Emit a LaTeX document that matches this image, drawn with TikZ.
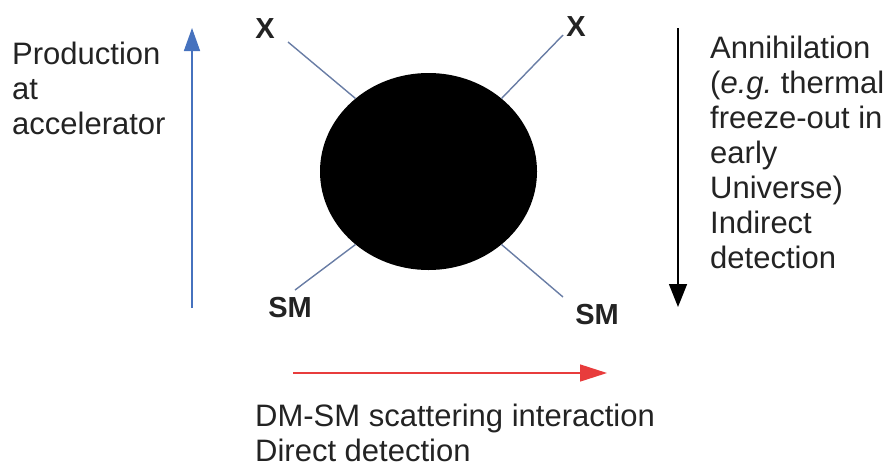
\documentclass[tikz,border=0pt]{standalone}
\usepackage{fontspec}
\setmainfont{Liberation Sans}
\usetikzlibrary{arrows.meta,shapes.geometric}
\frenchspacing
\definecolor{txt}{RGB}{35,35,35}
\definecolor{bluearr}{RGB}{70,114,190}
\definecolor{redarr}{RGB}{232,60,60}
\definecolor{leg}{RGB}{105,125,165}
\tikzset{
  bigtext/.style={font=\fontsize{31}{35}\selectfont, text=txt, align=left, inner sep=0pt, anchor=base west},
  plabel/.style={font=\fontsize{29}{30}\selectfont\bfseries, text=txt, inner sep=0pt},
  legline/.style={draw=leg, line width=1.4pt},
}
\begin{document}
\begin{tikzpicture}[x=1pt,y=-1pt]
\useasboundingbox (0,0) rectangle (888,472);
% blob
\node[ellipse, fill=black, minimum width=217pt, minimum height=197pt, inner sep=0pt] (blob) at (428.5,171.5) {};
% legs
\coordinate (ul) at (288,42);
\coordinate (ur) at (563,35);
\coordinate (ll) at (295,290);
\coordinate (lr) at (563,297);
\draw[legline] (ul) -- (blob.135);
\draw[legline] (ur) -- (blob.45);
\draw[legline] (ll) -- (blob.-135);
\draw[legline] (lr) -- (blob.-45);
% particle labels
\node[plabel] (xl) at (265,29) {X};
\node[plabel] (xr) at (576,27) {X};
\node[plabel] (sml) at (290,308) {SM};
\node[plabel] (smr) at (597,315) {SM};
% arrows
\coordinate (bb) at (192,308);
\coordinate (bt) at (192,28);
\draw[bluearr, line width=1.5pt, -{Triangle[length=23pt,width=16pt]}] (bb) -- (bt);
\coordinate (kt) at (678,28);
\coordinate (kb) at (678,307);
\draw[black, line width=1.5pt, -{Triangle[length=23pt,width=18pt]}] (kt) -- (kb);
\coordinate (rl) at (293,373);
\coordinate (rr) at (607,373);
\draw[redarr, line width=1.5pt, -{Triangle[length=27pt,width=17pt]}] (rl) -- (rr);
% texts (anchored at baseline of last line)
\node[bigtext] (prod) at (12,134) {Production\\at\\accelerator};
\node[bigtext] (ann) at (710,268) {Annihilation\\(\textit{e.g.} thermal\\freeze-out in\\early\\Universe)\\Indirect\\detection};
\node[bigtext] (dm) at (255,461) {DM-SM scattering interaction\\Direct detection};
\end{tikzpicture}
\end{document}
